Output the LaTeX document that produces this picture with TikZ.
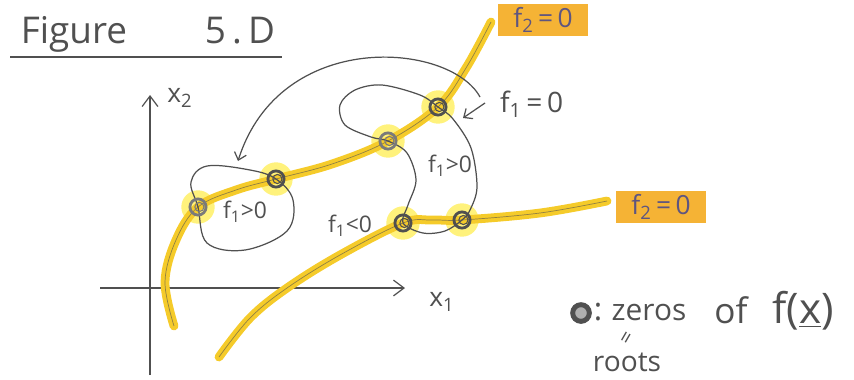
\documentclass[tikz,border=0pt]{standalone}
\usepackage{fontspec}
\setmainfont{Open Sans}
\usetikzlibrary{arrows.meta,positioning}
\definecolor{pencil}{HTML}{505050}
\definecolor{pencilLight}{HTML}{7A7A7A}
\definecolor{marker}{HTML}{F5CB2A}
\definecolor{halo}{HTML}{FFEC45}
\definecolor{tag}{HTML}{F5B335}
\definecolor{tagInk}{HTML}{5E5580}

\begin{document}
\begin{tikzpicture}[
            x=0.02cm, y=-0.02cm,
            every node/.style={text=pencil, inner sep=1pt},
            pen/.style={draw=pencil, line width=0.7pt},
            axis/.style={pen, -{Straight Barb[length=6pt, width=9pt]}},
            barb/.style={pen, -{Straight Barb[length=4pt, width=7pt]}},
            hilite/.style={draw=marker, line width=5pt, line cap=round},
            trace/.style={draw=pencil, line width=0.4pt, opacity=0.6},
            halostyle/.style={fill=halo, opacity=0.7},
            ring/.style={line width=1.6pt},
            tagbox/.style={fill=tag, text=tagInk, inner xsep=9pt, inner ysep=2pt,
                           font=\fontsize{15}{17}\selectfont},
            region/.style={font=\fontsize{13}{15}\selectfont}
        ]
        \useasboundingbox (0,0) rectangle (854,379);

        %---------------- Title ----------------%
        \node[font=\fontsize{21}{24}\selectfont] (ttl) at (74,34) {Figure};
        \node[font=\fontsize{21}{24}\selectfont] (ttlnum) at (240,31) {5\,.\,D};
        \draw[pen] (10,57) -- (282,57);

        %---------------- Zeros ----------------%
        \coordinate (z1) at (198,207);
        \coordinate (z2) at (276,179);
        \coordinate (z3) at (388,141);
        \coordinate (z4) at (438,107);
        \coordinate (z5) at (403,223);
        \coordinate (z6) at (462,220);

        \foreach \z in {z1,z2,z3,z4,z5,z6}
            \fill[halostyle] (\z) circle[radius=9.5pt];

        %---------------- Axes ----------------%
        \coordinate (o) at (150,288);
        \coordinate (xend) at (405,288);
        \coordinate (yend) at (150,95);
        \draw[axis] (100,288) -- (xend);
        \draw[axis] (150,375) -- (yend);
        \node[font=\fontsize{15}{17}\selectfont] (lblx2) at (180,98) {x\textsubscript{2}};
        \node[font=\fontsize{15}{17}\selectfont] (lblx1) at (442,302) {x\textsubscript{1}};

        %---------------- f2 = 0 curves ----------------%
        \draw[hilite] plot[smooth, tension=0.6] coordinates
            {(174,326) (165,282) (176,240) (z1) (236,190) (z2) (332,164) (z3) (z4) (466,68) (491,22)};
        \draw[trace] plot[smooth, tension=0.6] coordinates
            {(174,326) (165,282) (176,240) (z1) (236,190) (z2) (332,164) (z3) (z4) (466,68) (491,22)};
        \draw[hilite] plot[smooth, tension=0.6] coordinates
            {(219,357) (250,318) (287,288) (340,255) (z5) (432,220) (z6) (540,213) (607,201)};
        \draw[trace] plot[smooth, tension=0.6] coordinates
            {(219,357) (250,318) (287,288) (340,255) (z5) (432,220) (z6) (540,213) (607,201)};

        \node[tagbox] (tagtop) at (543,20) {f\textsubscript{2}\,=\,0};
        \node[tagbox] (tagbot) at (661,207) {f\textsubscript{2}\,=\,0};

        %---------------- f1 = 0 curves ----------------%
        \draw[pen] plot[smooth cycle, tension=0.6] coordinates
            {(z1) (191,182) (207,166) (250,170) (z2) (293,200) (287,231) (245,250) (207,243)};
        \draw[pen] plot[smooth cycle, tension=0.55] coordinates
            {(z4) (453,119) (471,148) (477,187) (470,210) (z6) (445,231) (423,233) (z5)
             (408,205) (416,180) (407,153) (z3) (371,137) (345,125) (340,105) (355,90)
             (382,85) (420,95)};

        %---------------- Region labels ----------------%
        \node[region] (posleft) at (245,212) {f\textsubscript{1}>0};
        \node[region] (posright) at (450,166) {f\textsubscript{1}>0};
        \node[region] (neg) at (350,226) {f\textsubscript{1}<0};
        \node[font=\fontsize{16}{18}\selectfont, anchor=west] (lbleq) at (498,104) {f\textsubscript{1}\,=\,0};

        %---------------- Arrows ----------------%
        \coordinate (arcstart) at (480,97);
        \coordinate (arcend) at (238,161);
        \draw[barb] (arcstart) .. controls (450,42) and (280,28) .. (arcend);
        \coordinate (ptrstart) at (485,103);
        \coordinate (ptrend) at (463,118);
        \draw[barb] (ptrstart) -- (ptrend);

        %---------------- Zero markers ----------------%
        \foreach \z/\c in {z1/pencilLight,z2/pencil,z3/pencilLight,z4/pencil,z5/pencil,z6/pencil} {
            \draw[ring, draw=\c] (\z) circle[radius=4.6pt];
            \draw[draw=\c, line width=0.6pt] ([xshift=0.8pt]\z) circle[radius=2.6pt];
        }

        %---------------- Legend ----------------%
        \node[circle, draw=pencil, line width=2.8pt, fill=pencilLight!60, minimum size=9.5pt,
              inner sep=0pt] (legdot) at (581,313) {};
        \node[font=\fontsize{18}{20}\selectfont] (legcolon) at (598,312) {:};
        \node[font=\fontsize{17}{20}\selectfont] (legzeros) at (649,313) {zeros};
        \node[font=\fontsize{20}{22}\selectfont] (legof) at (731,310) {of};
        \node[font=\fontsize{24}{26}\selectfont] (legfx) at (803,311) {f(\underline{x})};
        \node[font=\fontsize{12}{13}\selectfont, rotate=60, inner sep=0pt] (legeq) at (628,339) {=};
        \node[font=\fontsize{16}{18}\selectfont] (legroots) at (627,362) {roots};
\end{tikzpicture}
\end{document}
